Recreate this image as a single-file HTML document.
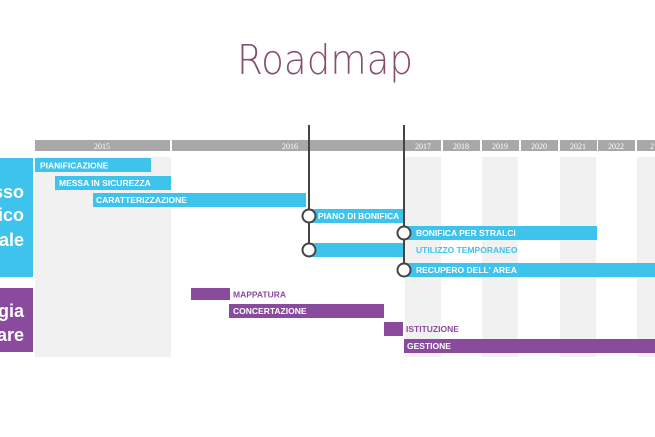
<!DOCTYPE html>
<html><head><meta charset="utf-8"><style>
html,body{margin:0;padding:0;background:#fff;}
svg{display:block;}
text{font-family:"Liberation Sans",sans-serif;}
.b{font-weight:bold;font-size:8.5px;fill:#fff;}
.y{font-family:"Liberation Serif",serif;font-size:8px;fill:#fff;}
.t{font-family:"DejaVu Sans ExtraLight","DejaVu Sans Light","DejaVu Sans",sans-serif;font-weight:200;}
</style></head><body>
<svg width="655" height="437" viewBox="0 0 655 437" xmlns="http://www.w3.org/2000/svg">
<text class="t" x="325" y="74" text-anchor="middle" font-size="41" fill="#84506e" textLength="176" lengthAdjust="spacingAndGlyphs">Roadmap</text>
<!-- header -->
<rect x="35" y="140" width="135" height="11" fill="#a8a8a8"/>
<rect x="172" y="140" width="232" height="11" fill="#a8a8a8"/>
<rect x="405" y="140" width="36" height="11" fill="#a8a8a8"/>
<rect x="443" y="140" width="37" height="11" fill="#a8a8a8"/>
<rect x="482" y="140" width="37" height="11" fill="#a8a8a8"/>
<rect x="521" y="140" width="37" height="11" fill="#a8a8a8"/>
<rect x="560" y="140" width="37" height="11" fill="#a8a8a8"/>
<rect x="598" y="140" width="37" height="11" fill="#a8a8a8"/>
<rect x="637" y="140" width="18" height="11" fill="#a8a8a8"/>
<text class="y" x="102" y="149" text-anchor="middle">2015</text>
<text class="y" x="290" y="149" text-anchor="middle">2016</text>
<text class="y" x="423" y="149" text-anchor="middle">2017</text>
<text class="y" x="461" y="149" text-anchor="middle">2018</text>
<text class="y" x="500" y="149" text-anchor="middle">2019</text>
<text class="y" x="539" y="149" text-anchor="middle">2020</text>
<text class="y" x="578" y="149" text-anchor="middle">2021</text>
<text class="y" x="616" y="149" text-anchor="middle">2022</text>
<text class="y" x="650" y="149">2</text>
<!-- shaded columns -->
<g fill="#f1f1f1">
<rect x="35" y="157" width="136" height="200"/>
<rect x="405" y="157" width="36" height="200"/>
<rect x="482" y="157" width="36" height="200"/>
<rect x="560" y="157" width="36" height="200"/>
<rect x="637" y="157" width="18" height="200"/>
</g>
<!-- left boxes -->
<rect x="0" y="158" width="33" height="119" fill="#3ec3ec"/>
<rect x="0" y="288" width="33" height="64" fill="#8a4b9e"/>
<g font-weight="bold" font-size="18" fill="#fff" text-anchor="end">
<text x="24" y="198">sso</text><text x="24" y="221">ico</text><text x="24" y="246">ale</text>
<text x="24" y="317">gia</text><text x="24" y="341">are</text>
</g>
<!-- blue bars -->
<g fill="#3ec3ec">
<rect x="35" y="158" width="116" height="14"/>
<rect x="55" y="176" width="116" height="14"/>
<rect x="93" y="193" width="213" height="14"/>
<rect x="308" y="209" width="96" height="14"/>
<rect x="404" y="226" width="193" height="14"/>
<rect x="308" y="243" width="96" height="14"/>
<rect x="404" y="263" width="251" height="14"/>
</g>
<text class="b" x="40" y="168.5">PIANIFICAZIONE</text>
<text class="b" x="59" y="186">MESSA IN SICUREZZA</text>
<text class="b" x="96" y="203">CARATTERIZZAZIONE</text>
<text class="b" x="318" y="219">PIANO DI BONIFICA</text>
<text class="b" x="416" y="236">BONIFICA PER STRALCI</text>
<text class="b" x="416" y="253" style="fill:#3ec3ec">UTILIZZO TEMPORANEO</text>
<text class="b" x="416" y="273">RECUPERO DELL' AREA</text>
<!-- purple bars -->
<g fill="#8a4b9e">
<rect x="191" y="288" width="39" height="12"/>
<rect x="229" y="304" width="155" height="14"/>
<rect x="384" y="322" width="19" height="14"/>
<rect x="404" y="339" width="251" height="14"/>
</g>
<text class="b" x="233" y="297.5" style="fill:#8a4b9e">MAPPATURA</text>
<text class="b" x="233" y="314">CONCERTAZIONE</text>
<text class="b" x="406" y="332" style="fill:#8a4b9e">ISTITUZIONE</text>
<text class="b" x="407" y="349">GESTIONE</text>
<!-- milestones -->
<line x1="309" y1="125" x2="309" y2="250" stroke="#444" stroke-width="2"/>
<line x1="404" y1="125" x2="404" y2="270" stroke="#444" stroke-width="2"/>
<g fill="#fff" stroke="#444" stroke-width="2">
<circle cx="309" cy="216" r="6.5"/>
<circle cx="309" cy="250" r="6.5"/>
<circle cx="404" cy="233" r="6.5"/>
<circle cx="404" cy="270" r="6.5"/>
</g>
</svg>
</body></html>
